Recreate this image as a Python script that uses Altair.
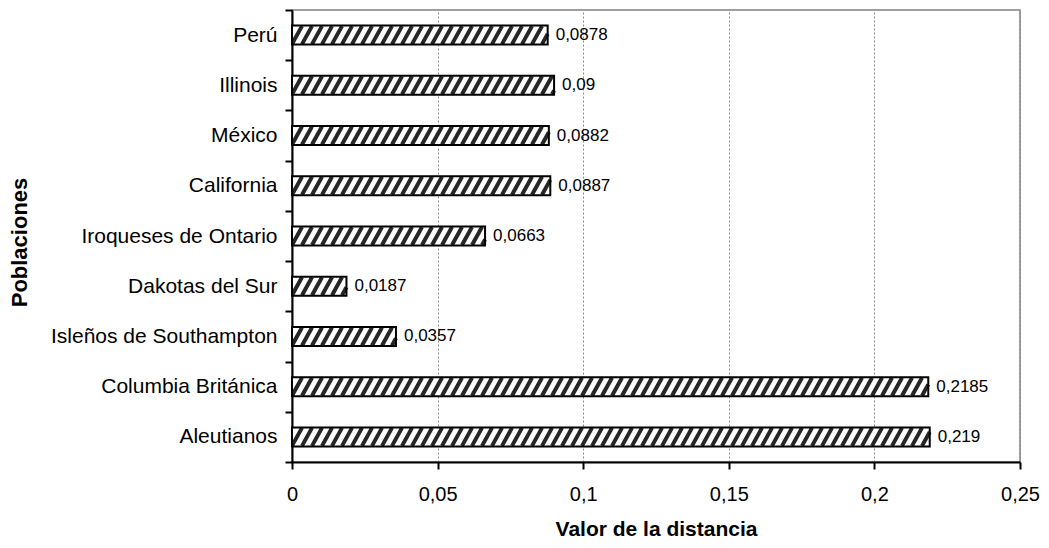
import altair as alt
import pandas as pd

categories = [
    "Perú", "Illinois", "México", "California", "Iroqueses de Ontario",
    "Dakotas del Sur", "Isleños de Southampton", "Columbia Británica", "Aleutianos",
]
values = [0.0878, 0.09, 0.0882, 0.0887, 0.0663, 0.0187, 0.0357, 0.2185, 0.219]
x_ticks = [0, 0.05, 0.1, 0.15, 0.2, 0.25]

n = len(categories)
df = pd.DataFrame({
    "pob": categories,
    "val": values,
    "idx": list(range(n - 1, -1, -1)),
})

W, H = 728, 452
FONT = "Liberation Sans"
ux = (x_ticks[-1] - x_ticks[0]) / W   # data units per pixel (x)
uy = n / H                             # index units per pixel (y)
pitch = 10 * ux
slant = 10 * ux
half = 9 * uy

xscale = alt.Scale(domain=[x_ticks[0], x_ticks[-1]], nice=False, zero=True)
xaxis = alt.Axis(
    title="Valor de la distancia", values=x_ticks,
    labelExpr="replace(toString(datum.value), '.', ',')",
    grid=True, gridDash=[2, 2], gridColor="#8a8a8a", gridWidth=1,
    domainColor="black", domainWidth=2, tickColor="black", tickWidth=2, tickSize=7,
    labelFontSize=20, labelColor="black", labelPadding=15, labelFlush=False, labelOverlap=False,
    titleFontSize=21, titleFontWeight="bold", titleColor="black",
    titleX=W / 2, titleY=73, titleAlign="center", titleBaseline="alphabetic",
)
yaxis = alt.Axis(
    title="Poblaciones", tickBand="extent", ticks=True, tickSize=7, tickWidth=2,
    tickColor="black", domainColor="black", domainWidth=2, grid=False,
    labelFontSize=21, labelColor="black", labelPadding=8, labelLimit=400,
    titleFontSize=22, titleFontWeight="bold", titleColor="black", titleAngle=-90,
    titleX=-266, titleY=232, titleAlign="center", titleBaseline="alphabetic",
)
yband = alt.Scale(paddingInner=0, paddingOuter=0)

base = alt.Chart(df)

bars_fill = base.mark_bar(size=19, color="white").encode(
    x=alt.X("val:Q", scale=xscale, axis=xaxis),
    y=alt.Y("pob:N", sort=categories, scale=yband, axis=yaxis),
)

stripes = base.transform_calculate(
    xs=f"sequence({-slant}, datum.val, {pitch})"
).transform_flatten(["xs"]).transform_calculate(
    x0="max(datum.xs, 0)",
    x1=f"min(datum.xs + {slant}, datum.val)",
).transform_filter("datum.x1 > datum.x0").transform_calculate(
    y0=f"datum.idx - {half} + (datum.x0 - datum.xs) / {slant} * {2 * half}",
    y1=f"datum.idx - {half} + (datum.x1 - datum.xs) / {slant} * {2 * half}",
).mark_rule(color="#262626", strokeWidth=4, strokeCap="butt", clip=True).encode(
    x=alt.X("x0:Q", scale=xscale, axis=xaxis),
    x2="x1:Q",
    y=alt.Y("y0:Q", scale=alt.Scale(domain=[-0.5, n - 0.5], nice=False, zero=False), axis=None),
    y2="y1:Q",
)

outline = base.mark_bar(size=19, fill="white", fillOpacity=0, stroke="black", strokeWidth=2).encode(
    x=alt.X("val:Q", scale=xscale, axis=xaxis),
    y=alt.Y("pob:N", sort=categories, scale=yband, axis=None),
)

labels = base.transform_calculate(
    lab="replace(toString(datum.val), '.', ',')"
).mark_text(align="left", baseline="middle", dx=8, fontSize=17, font=FONT, color="black").encode(
    x=alt.X("val:Q", scale=xscale, axis=xaxis),
    y=alt.Y("pob:N", sort=categories, scale=yband, axis=None),
    text="lab:N",
)

chart = alt.layer(bars_fill, stripes, outline, labels).resolve_scale(
    y="independent"
).properties(
    width=W, height=H,
    autosize=alt.AutoSizeParams(type="none"),
    padding={"left": 284, "top": 2, "right": 21, "bottom": 78},
).configure(font=FONT).configure_view(stroke="#808080", strokeWidth=1.5)

chart.save("out.html", embed_options={"renderer": "svg", "actions": False})
